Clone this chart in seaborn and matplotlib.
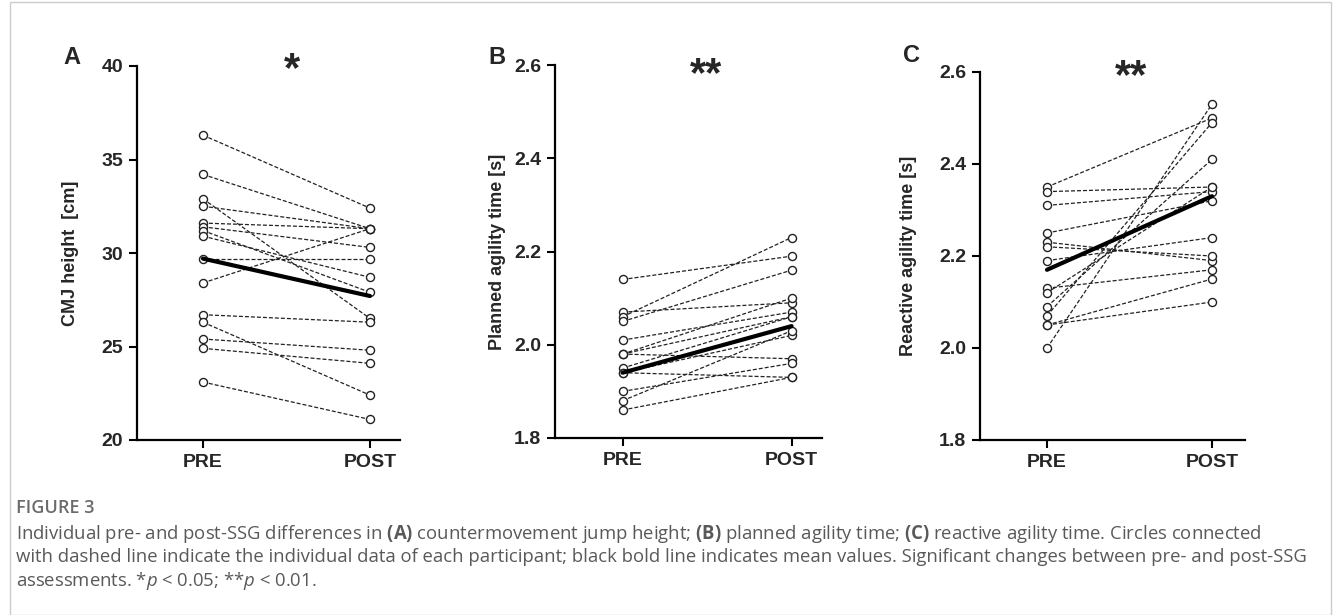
import numpy as np
import pandas as pd
import matplotlib
matplotlib.use("Agg")
import matplotlib.pyplot as plt
import seaborn as sns
from matplotlib.patches import Rectangle

# ---------------- data ----------------
time_labels = ["PRE", "POST"]

cmj_pre  = [36.3, 34.2, 32.9, 32.5, 31.6, 31.4, 31.2, 30.9, 29.7, 28.4, 26.7, 26.3, 25.4, 24.9, 23.1]
cmj_post = [32.4, 31.3, 26.5, 31.3, 31.3, 30.3, 27.9, 28.7, 29.7, 31.3, 26.3, 22.4, 24.8, 24.1, 21.1]
cmj_mean = [29.7, 27.7]

pat_pre  = [2.14, 2.07, 2.06, 2.05, 2.01, 1.98, 1.98, 1.98, 1.95, 1.94, 1.94, 1.90, 1.88, 1.86]
pat_post = [2.19, 2.09, 2.23, 2.16, 2.07, 2.06, 2.10, 1.97, 2.06, 1.93, 2.02, 1.96, 2.03, 1.93]
pat_mean = [1.94, 2.04]

rat_pre  = [2.35, 2.34, 2.31, 2.25, 2.23, 2.22, 2.19, 2.13, 2.12, 2.09, 2.07, 2.05, 2.05, 2.00]
rat_post = [2.50, 2.35, 2.34, 2.32, 2.19, 2.20, 2.24, 2.17, 2.35, 2.41, 2.49, 2.15, 2.10, 2.53]
rat_mean = [2.17, 2.33]

panel_letters = ["A", "B", "C"]
y_labels = ["CMJ height  [cm]", "Planned agility time [s]", "Reactive agility time [s]"]
y_ticks = [[20, 25, 30, 35, 40], [1.8, 2.0, 2.2, 2.4, 2.6], [1.8, 2.0, 2.2, 2.4, 2.6]]
y_ticklabels = [["20", "25", "30", "35", "40"], ["1.8", "2.0", "2.2", "2.4", "2.6"],
                ["1.8", "2.0", "2.2", "2.4", "2.6"]]
sig_marks = ["*", "**", "**"]

# ---------------- style ----------------
sns.set_theme(style="white")
plt.rcParams["font.family"] = ["Liberation Sans", "DejaVu Sans"]
plt.rcParams["mathtext.fontset"] = "custom"
plt.rcParams["mathtext.rm"] = "Open Sans"
plt.rcParams["mathtext.bf"] = "Open Sans:bold"
plt.rcParams["mathtext.it"] = "Open Sans:italic"

W, H = 1333, 615
fig = plt.figure(figsize=(W / 100, H / 100), dpi=100)

def px_axes(left, top, right, bottom):
    return fig.add_axes([left / W, 1 - bottom / H, (right - left) / W, (bottom - top) / H])

boxes = [(137, 66, 400, 440), (555, 65, 822, 438), (980, 72, 1245, 440)]
xlims = [(-0.395, 1.18), (-0.40, 1.18), (-0.406, 1.2)]
ylabel_x = [79, 506, 917]

datasets = [(cmj_pre, cmj_post, cmj_mean), (pat_pre, pat_post, pat_mean), (rat_pre, rat_post, rat_mean)]

for i, ((pre, post, mean), box) in enumerate(zip(datasets, boxes)):
    ax = px_axes(*box)
    n = len(pre)
    df = pd.DataFrame({
        "id": list(range(n)) * 2,
        "t": [0] * n + [1] * n,
        "value": list(pre) + list(post),
    })
    sns.lineplot(data=df, x="t", y="value", units="id", estimator=None, ax=ax,
                 color="#222222", linewidth=0.9, linestyle=(0, (3.2, 1.6)),
                 marker="o", markersize=5.8, markerfacecolor="white",
                 markeredgecolor="#222222", markeredgewidth=1.0, legend=False)
    mdf = pd.DataFrame({"t": [0, 1], "value": mean})
    sns.lineplot(data=mdf, x="t", y="value", ax=ax, color="black", linewidth=3.0,
                 legend=False, zorder=5)

    ax.set_xlim(*xlims[i])
    ax.set_ylim(y_ticks[i][0], y_ticks[i][-1])
    ax.set_xticks([0, 1])
    ax.set_xticklabels(time_labels, fontsize=14, fontweight="bold")
    ax.set_yticks(y_ticks[i])
    ax.set_yticklabels(y_ticklabels[i], fontsize=14, fontweight="bold")
    ax.set_xlabel("")
    ax.set_ylabel(y_labels[i], fontsize=13, fontweight="bold")
    ax.yaxis.set_label_coords((ylabel_x[i] - box[0]) / (box[2] - box[0]), 0.5)
    for s in ["top", "right"]:
        ax.spines[s].set_visible(False)
    for s in ["left", "bottom"]:
        ax.spines[s].set_linewidth(1.6)
        ax.spines[s].set_color("black")
    ax.tick_params(axis="both", which="major", length=6, width=1.5, color="black",
                   direction="out", bottom=True, left=True, pad=4)
    ax.patch.set_alpha(0)

# significance marks
star_pos = [(292, 70), (706, 75), (1131, 77)]
for mark, (x, y) in zip(sig_marks, star_pos):
    fig.text(x / W, 1 - y / H, mark, fontsize=30, fontweight="bold", ha="center", va="center")

# panel letters
letter_pos = [(72, 58), (497, 58), (912, 55)]
for letter, (x, y) in zip(panel_letters, letter_pos):
    fig.text(x / W, 1 - y / H, letter, fontsize=17, fontweight="bold", ha="center", va="center")

# caption
cap_color = "#595959"
fig.text(16 / W, 1 - 508 / H, "FIGURE 3", fontsize=13, color="#6b6b6b", fontweight="semibold",
         family=["Open Sans", "DejaVu Sans"], va="center", ha="left")
cap_lines = [
    r"Individual pre- and post-SSG differences in $\bf{(A)}$ countermovement jump height; $\bf{(B)}$ planned agility time; $\bf{(C)}$ reactive agility time. Circles connected",
    "with dashed line indicate the individual data of each participant; black bold line indicates mean values. Significant changes between pre- and post-SSG",
    r"assessments. *$\it{p}$ < 0.05; **$\it{p}$ < 0.01.",
]
for k, line in enumerate(cap_lines):
    fig.text(16 / W, 1 - (534 + 23.5 * k) / H, line, fontsize=13.35, color=cap_color,
             family=["Open Sans", "DejaVu Sans"], va="center", ha="left")

fig.patches.append(Rectangle((10 / W, 0), (W - 12) / W, 1 - 2 / H, transform=fig.transFigure,
                             fill=False, edgecolor="#cccccc", linewidth=1.0))

fig.savefig("out.png", dpi=100)
